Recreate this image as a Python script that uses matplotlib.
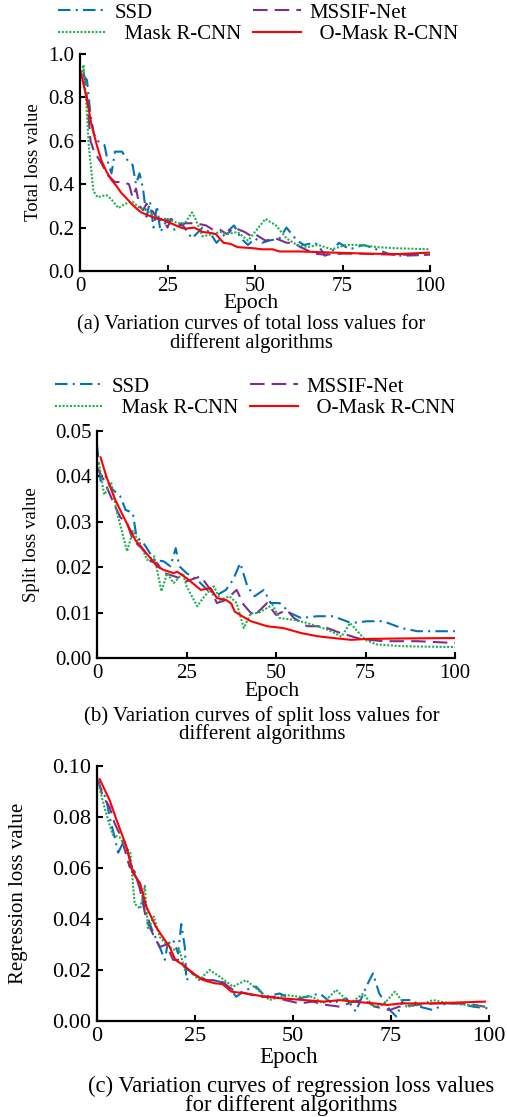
import numpy as np
import matplotlib.pyplot as plt

plt.rcParams['font.family'] = ['Liberation Serif', 'DejaVu Serif']

# ---- (a) total loss ----
ssd_a_x = [1, 2, 3, 4, 5, 7, 8, 9, 10, 12, 14, 15, 16, 17, 18, 19, 20, 21, 22, 23, 25, 27, 29, 32, 35, 37, 39,
           42, 44, 46, 48, 50, 52, 54, 57, 59, 62, 64, 67, 68, 70, 72, 74, 77, 81, 83, 88, 92, 100]
ssd_a_y = [0.90, 0.88, 0.72, 0.63, 0.60, 0.58, 0.50, 0.45, 0.55, 0.55, 0.50, 0.49, 0.40, 0.45, 0.38, 0.25, 0.32,
           0.20, 0.30, 0.18, 0.24, 0.19, 0.22, 0.15, 0.20, 0.18, 0.13, 0.18, 0.21, 0.15, 0.12, 0.15, 0.13, 0.14,
           0.15, 0.20, 0.14, 0.12, 0.13, 0.12, 0.07, 0.09, 0.13, 0.10, 0.12, 0.11, 0.08, 0.07, 0.075]
mask_a_x = [0.5, 1, 1.7, 2.5, 3.8, 5, 7.5, 9, 11, 13, 15, 17, 19, 22, 25, 28, 30, 32, 33, 35, 38, 40, 42, 45, 48,
            51, 53, 56, 59, 62, 65, 68, 72, 76, 80, 85, 90, 100]
mask_a_y = [0.90, 0.95, 0.80, 0.58, 0.37, 0.34, 0.35, 0.33, 0.29, 0.31, 0.32, 0.29, 0.28, 0.24, 0.24, 0.22, 0.22,
            0.27, 0.24, 0.16, 0.17, 0.18, 0.17, 0.18, 0.14, 0.20, 0.24, 0.21, 0.15, 0.12, 0.11, 0.12, 0.10, 0.12,
            0.12, 0.11, 0.105, 0.10]
mssif_a_x = [1, 2, 3, 4, 6, 8, 10, 12, 14, 15, 16, 17, 18, 19, 21, 22, 24, 25, 26, 27, 29, 30, 33, 36, 38, 40, 42,
             44, 47, 49, 50, 53, 56, 59, 61, 63, 67, 70, 75, 80, 90, 100]
mssif_a_y = [0.92, 0.80, 0.60, 0.55, 0.50, 0.44, 0.41, 0.41, 0.40, 0.34, 0.38, 0.30, 0.28, 0.31, 0.27, 0.24, 0.23,
             0.20, 0.24, 0.23, 0.21, 0.22, 0.22, 0.21, 0.19, 0.19, 0.17, 0.20, 0.18, 0.16, 0.17, 0.14, 0.15, 0.13,
             0.13, 0.11, 0.08, 0.075, 0.08, 0.08, 0.075, 0.075]
omask_a_x = [0, 1, 2, 3.2, 4.8, 6.1, 7.5, 9, 10.5, 11.8, 13, 14.7, 16, 17.5, 19, 21.3, 23, 26, 28.9, 30, 32.7, 35,
             37.5, 38.8, 41, 43, 45, 49.5, 52, 55, 57, 63, 72, 82, 91, 100]
omask_a_y = [0.93, 0.86, 0.79, 0.68, 0.58, 0.51, 0.46, 0.42, 0.39, 0.36, 0.34, 0.31, 0.29, 0.27, 0.26, 0.245, 0.24,
             0.22, 0.20, 0.195, 0.20, 0.18, 0.175, 0.17, 0.13, 0.125, 0.11, 0.105, 0.10, 0.10, 0.09, 0.09, 0.085,
             0.08, 0.078, 0.085]

# ---- (b) split loss ----
ssd_b_x = [0, 1, 2.3, 4, 6.5, 8, 10, 11, 13, 16, 18.6, 20.5, 22, 23, 25, 28, 30.8, 33, 36, 38, 40, 42, 44, 46.6,
           48.5, 51, 54, 57, 61.5, 66, 71, 75.5, 80, 85, 89.5, 100]
ssd_b_y = [0.047, 0.039, 0.040, 0.0374, 0.0356, 0.0326, 0.032, 0.0268, 0.0253, 0.0216, 0.0213, 0.0202, 0.0242,
           0.0202, 0.0187, 0.0172, 0.015, 0.0136, 0.015, 0.0172, 0.0209, 0.0158, 0.0136, 0.015, 0.0121, 0.0121,
           0.0099, 0.0088, 0.0092, 0.0092, 0.0077, 0.0081, 0.0081, 0.0066, 0.0059, 0.0059]
mask_b_x = [0.5, 2, 4, 5.6, 8.4, 10, 12, 14, 16, 18, 19.6, 21.4, 24, 25, 28, 30, 32.6, 34.5, 37, 39, 41, 43, 45,
            46.6, 49, 51, 55, 58.7, 63, 64.5, 68.3, 70.7, 74.9, 78, 85, 100]
mask_b_y = [0.043, 0.036, 0.0385, 0.032, 0.0235, 0.028, 0.0253, 0.0216, 0.0224, 0.0147, 0.0187, 0.0165, 0.0187,
            0.0158, 0.0114, 0.0136, 0.0158, 0.0128, 0.0136, 0.0121, 0.0066, 0.0099, 0.0099, 0.0106, 0.0117,
            0.0088, 0.0084, 0.0077, 0.0066, 0.0062, 0.0047, 0.0077, 0.0040, 0.0030, 0.0026, 0.0024]
mssif_b_x = [0, 2, 4.7, 6.5, 8.4, 10, 13, 15, 16.8, 18.6, 20.5, 23, 25, 29, 31.7, 33.5, 36, 39, 41, 43.8, 47.5,
             50, 53, 55, 58.7, 63, 68, 73.6, 80, 89.5, 100]
mssif_b_y = [0.042, 0.039, 0.034, 0.031, 0.0297, 0.026, 0.0238, 0.0213, 0.0209, 0.0187, 0.0183, 0.0176, 0.0169,
             0.018, 0.015, 0.0121, 0.0128, 0.015, 0.0117, 0.0092, 0.0121, 0.0095, 0.0106, 0.0088, 0.007, 0.007,
             0.0055, 0.0042, 0.0037, 0.0037, 0.0033]
omask_b_x = [1, 2.6, 5, 7.6, 10.7, 13, 16.8, 18.6, 21.4, 22.4, 25, 29, 31.7, 33.5, 36, 37.5, 38.5, 41, 43, 47.5,
             52, 57, 61.5, 66, 71, 75.5, 85, 100]
omask_b_y = [0.0442, 0.040, 0.035, 0.0308, 0.026, 0.0238, 0.0202, 0.0194, 0.0187, 0.019, 0.0176, 0.015, 0.0154,
             0.0132, 0.0128, 0.012, 0.0102, 0.009, 0.0081, 0.007, 0.0066, 0.0055, 0.0048, 0.0044, 0.004, 0.0042,
             0.0043, 0.0044]

# ---- (c) regression loss ----
ssd_c_x = [0, 0.7, 2.4, 3.2, 4.5, 5.4, 7, 8.3, 9.2, 11, 12.6, 14, 16, 17.3, 18, 19.4, 20.7, 21.5, 22.4, 22.8,
           24.5, 27, 29.6, 33, 35.5, 38, 40.6, 43, 46.6, 50, 53.4, 56.8, 60, 63.6, 66, 68.7, 70.4, 72, 74.7, 76.4,
           78, 80.6, 82.3, 85.7, 89, 92.5, 96, 99.7]
ssd_c_y = [0.095, 0.092, 0.087, 0.080, 0.072, 0.066, 0.071, 0.064, 0.059, 0.053, 0.042, 0.036, 0.029, 0.024,
           0.030, 0.032, 0.0265, 0.038, 0.029, 0.016, 0.0187, 0.016, 0.016, 0.0148, 0.0095, 0.0122, 0.0135,
           0.0095, 0.0108, 0.0082, 0.0095, 0.0108, 0.0069, 0.0089, 0.0037, 0.0135, 0.0187, 0.0108, 0.0043,
           0.0017, 0.0082, 0.0082, 0.0056, 0.0043, 0.0069, 0.0069, 0.0056, 0.005]
mask_c_x = [0, 1, 2.4, 4, 5.8, 7.5, 8.5, 9.6, 11, 12.2, 13, 14.5, 16, 17.7, 19.4, 21, 22.4, 23.6, 26, 28.7, 31.3,
            34.7, 38, 40.6, 44, 48, 51.7, 55, 57.6, 61, 64.5, 68, 70.4, 73, 76, 79, 82.3, 85.7, 90, 99]
mask_c_y = [0.096, 0.089, 0.081, 0.073, 0.072, 0.068, 0.066, 0.046, 0.044, 0.053, 0.036, 0.041, 0.033, 0.030,
            0.028, 0.028, 0.020, 0.020, 0.016, 0.020, 0.0174, 0.0135, 0.016, 0.0128, 0.0082, 0.0102, 0.0095,
            0.0095, 0.0069, 0.0122, 0.0069, 0.0108, 0.0056, 0.0063, 0.0115, 0.0056, 0.0063, 0.0082, 0.0069, 0.0056]
mssif_c_x = [0.3, 1.5, 3.2, 4.5, 6.2, 8.3, 9.6, 11, 12.6, 14.3, 16, 17.7, 19.4, 21, 22.4, 24.5, 28, 31.3, 34.7,
             38, 41.5, 45, 48, 51.7, 55, 58.5, 62, 65.3, 68, 71, 74.7, 77, 81.5, 85.7, 90, 94, 99]
mssif_c_y = [0.0945, 0.088, 0.084, 0.0775, 0.072, 0.0605, 0.0586, 0.0514, 0.0396, 0.034, 0.029, 0.030, 0.024,
             0.024, 0.021, 0.0187, 0.016, 0.016, 0.0122, 0.0108, 0.0095, 0.0095, 0.0082, 0.0069, 0.0076, 0.0063,
             0.0056, 0.0076, 0.0082, 0.0056, 0.0043, 0.0056, 0.0063, 0.0069, 0.0069, 0.0069, 0.0056]
omask_c_x = [0.7, 3.2, 5, 7.5, 9.2, 11, 12.6, 15, 17, 18.5, 20, 22, 24.5, 27, 30, 32, 34.3, 38, 43, 47, 53, 58,
             62, 66, 70.8, 74.2, 77.6, 85.3, 99]
omask_c_y = [0.0948, 0.0867, 0.0788, 0.0684, 0.058, 0.054, 0.0448, 0.037, 0.0324, 0.0292, 0.0239, 0.022, 0.0187,
             0.0161, 0.0148, 0.0145, 0.0115, 0.0108, 0.0095, 0.0089, 0.0082, 0.0076, 0.0082, 0.0075, 0.0069,
             0.0063, 0.0069, 0.0069, 0.0076]

names = ['SSD', 'MSSIF-Net', '  Mask R-CNN', '  O-Mask R-CNN']
colors = ['#0072BD', '#7E2F8E', '#1DB04E', '#FF0000']
styles = [(0, (6, 2.5, 1, 2.5)), (0, (7, 3.4)), (0, (1, 0.8)), '-']

W, H = 507, 1117
fig = plt.figure(figsize=(W / 100, H / 100), dpi=100)


def px_axes(l, t, r, b):
    return fig.add_axes([l / W, 1 - b / H, (r - l) / W, (b - t) / H])


def draw(ax, data, ymax, step, fmt, fs):
    # order: SSD, MSSIF-Net, Mask R-CNN, O-Mask R-CNN
    lines = []
    for (x, y), c, ls, n in zip(data, colors, styles, names):
        ln, = ax.plot(x, y, color=c, linestyle=ls, lw=1.5, label=n)
        lines.append(ln)
    ax.set_xlim(0, 100)
    ax.set_ylim(0, ymax)
    ax.set_xticks([0, 25, 50, 75, 100])
    ax.set_yticks(np.arange(0, ymax + step / 2, step))
    ax.yaxis.set_major_formatter(plt.FormatStrFormatter(fmt))
    ax.spines['top'].set_visible(False)
    ax.spines['right'].set_visible(False)
    for s in ['left', 'bottom']:
        ax.spines[s].set_linewidth(1.6)
    ax.tick_params(direction='in', length=4.5, width=1.5, labelsize=fs, pad=4)
    ax.set_xlabel('Epoch', fontsize=fs + 0.5)
    return lines


def add_legend(ax, lines, left, top):
    # rows: SSD / MSSIF-Net, Mask R-CNN / O-Mask R-CNN
    order = [lines[0], lines[2], lines[1], lines[3]]
    ax.legend(order, [l.get_label() for l in order], ncol=2, frameon=False, fontsize=15,
              loc='upper left', bbox_to_anchor=(left / W, 1 - top / H), bbox_transform=fig.transFigure,
              borderpad=0, borderaxespad=0, handlelength=2.3, handletextpad=0.4,
              columnspacing=0.55, labelspacing=0.1)


# (a)
ax1 = px_axes(80, 54, 430, 271)
l1 = draw(ax1, [(ssd_a_x, ssd_a_y), (mssif_a_x, mssif_a_y), (mask_a_x, mask_a_y), (omask_a_x, omask_a_y)],
          1.0, 0.2, '%.1f', 15)
ax1.set_ylabel('Total loss value', fontsize=13.5)
ax1.yaxis.set_label_coords(-0.109, 0.5)
ax1.xaxis.set_label_coords(0.489, -0.105)
add_legend(ax1, l1, 58, 3)
fig.text(251 / W, 1 - 334 / H, '(a) Variation curves of total loss values for\ndifferent algorithms',
         ha='center', va='center', fontsize=14.8, linespacing=0.9)

# (b)
ax2 = px_axes(97, 431, 455, 658)
l2 = draw(ax2, [(ssd_b_x, ssd_b_y), (mssif_b_x, mssif_b_y), (mask_b_x, mask_b_y), (omask_b_x, omask_b_y)],
          0.05, 0.01, '%.2f', 15)
ax2.set_ylabel('Split loss value', fontsize=13.5)
ax2.yaxis.set_label_coords(-0.159, 0.5)
ax2.xaxis.set_label_coords(0.489, -0.105)
add_legend(ax2, l2, 55, 377)
fig.text(262 / W, 1 - 725 / H, '(b) Variation curves of split loss values for\ndifferent algorithms',
         ha='center', va='center', fontsize=15, linespacing=0.9)

# (c)
ax3 = px_axes(97, 766, 489, 1021)
draw(ax3, [(ssd_c_x, ssd_c_y), (mssif_c_x, mssif_c_y), (mask_c_x, mask_c_y), (omask_c_x, omask_c_y)],
     0.10, 0.02, '%.2f', 16)
ax3.set_ylabel('Regression loss value', fontsize=15)
ax3.yaxis.set_label_coords(-0.176, 0.5)
ax3.xaxis.set_label_coords(0.489, -0.1)
fig.text(291 / W, 1 - 1096 / H, '(c) Variation curves of regression loss values\nfor different algorithms',
         ha='center', va='center', fontsize=16.3, linespacing=0.9)

fig.savefig('out.png', dpi=100)
